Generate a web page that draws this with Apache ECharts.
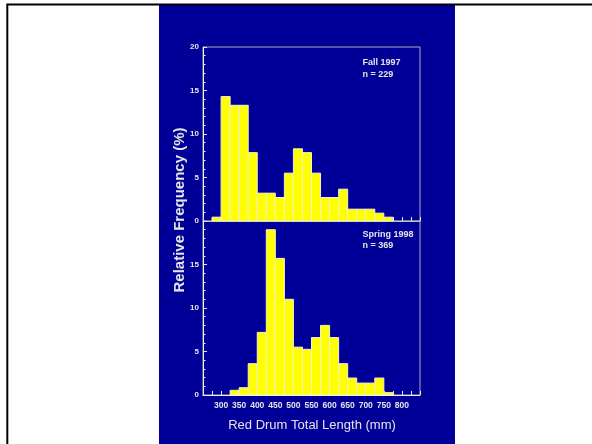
<!DOCTYPE html>
<html>
<head>
<meta charset="utf-8">
<script src="https://cdn.jsdelivr.net/npm/echarts@6/dist/echarts.min.js"></script>
<style>
html,body{margin:0;padding:0;background:#ffffff;}
#chart{width:592px;height:444px;}
</style>
</head>
<body>
<div id="chart"></div>
<script>
// ---- data ----
const binWidth = 25; // mm
const fallBinStarts = [275, 300, 325, 350, 375, 400, 425, 450, 475, 500, 525, 550, 575, 600, 625, 650, 675, 700, 725, 750];
const fallValues    = [0.44, 14.3, 13.3, 13.3, 7.86, 3.2, 3.2, 2.7, 5.5, 8.3, 7.86, 5.5, 2.7, 2.7, 3.66, 1.36, 1.36, 1.36, 0.9, 0.44];
const springBinStarts = [325, 350, 375, 400, 425, 450, 475, 500, 525, 550, 575, 600, 625, 650, 675, 700, 725, 750];
const springValues    = [0.54, 0.84, 3.6, 7.2, 19.0, 15.7, 11.0, 5.5, 5.25, 6.6, 8.0, 6.6, 3.6, 1.95, 1.37, 1.37, 1.95, 0.27];
const xTickLabels = [300, 350, 400, 450, 500, 550, 600, 650, 700, 750, 800];
const yTickLabels = [0, 5, 10, 15, 20];
const fallLabel = ['Fall 1997', 'n = 229'];
const springLabel = ['Spring 1998', 'n = 369'];
const xTitle = 'Red Drum Total Length (mm)';
const yTitle = 'Relative Frequency (%)';

const fallData = fallBinStarts.map((s, i) => [s, fallValues[i]]);
const springData = springBinStarts.map((s, i) => [s, springValues[i]]);

const FONT = '"Liberation Sans", Arial, sans-serif';
const TXT = '#e4e4e4';
const chart = echarts.init(document.getElementById('chart'), null, {renderer: 'canvas'});

function renderBar(params, api) {
  const x0 = api.value(0);
  const v = api.value(1);
  const p0 = api.coord([x0, 0]);
  const p1 = api.coord([x0 + binWidth, v]);
  return {
    type: 'rect',
    shape: {x: p0[0], y: p1[1], width: p1[0] - p0[0], height: p0[1] - p1[1]},
    style: {fill: '#ffff00', stroke: '#f2f2c4', lineWidth: 1}
  };
}

function xAxisCfg(idx, showLabels) {
  return {
    type: 'value', gridIndex: idx, min: 250, max: 850, interval: 25,
    axisLine: {show: true, lineStyle: {color: idx === 0 ? '#c4c4b4' : '#f0f0f0', width: 1}},
    axisTick: {show: true, inside: true, length: 4, lineStyle: {color: '#e8e8e8'}},
    splitLine: {show: false},
    axisLabel: {
      show: showLabels, margin: 6, color: TXT, fontFamily: FONT, fontSize: 8.5, fontWeight: 'bold',
      formatter: v => xTickLabels.indexOf(v) >= 0 ? String(v) : ''
    }
  };
}
function yAxisCfg(idx, hideTop) {
  return {
    type: 'value', gridIndex: idx, min: 0, max: 20, interval: 5,
    axisLine: {show: true, lineStyle: {color: '#f0f0f0', width: 1}},
    axisTick: {show: true, inside: true, length: 4, lineStyle: {color: '#e8e8e8'}},
    minorTick: {show: true, splitNumber: 5, length: 2.5, lineStyle: {color: '#e8e8e8'}},
    splitLine: {show: false},
    axisLabel: {
      margin: 4, color: TXT, fontFamily: FONT, fontSize: 8, fontWeight: 'bold',
      formatter: v => (hideTop && v === 20) ? '' : (yTickLabels.indexOf(v) >= 0 ? String(v) : '')
    }
  };
}

const option = {
  animation: false,
  backgroundColor: '#ffffff',
  grid: [
    {left: 203, top: 47, width: 217, height: 174, show: true, borderColor: '#ababab', borderWidth: 1, backgroundColor: 'transparent'},
    {left: 203, top: 221, width: 217, height: 174, show: true, borderColor: '#ababab', borderWidth: 1, backgroundColor: 'transparent'}
  ],
  xAxis: [xAxisCfg(0, false), xAxisCfg(1, true)],
  yAxis: [yAxisCfg(0, false), yAxisCfg(1, true)],
  series: [
    {type: 'custom', xAxisIndex: 0, yAxisIndex: 0, renderItem: renderBar, data: fallData, encode: {x: 0, y: 1}, z: 3},
    {type: 'custom', xAxisIndex: 1, yAxisIndex: 1, renderItem: renderBar, data: springData, encode: {x: 0, y: 1}, z: 3}
  ],
  graphic: [
    {type: 'rect', z: -10, silent: true, shape: {x: 159, y: 5, width: 296, height: 445}, style: {fill: '#000099'}},
    {type: 'rect', z: 100, silent: true, shape: {x: 7.3, y: 4.5, width: 640, height: 500}, style: {fill: 'none', stroke: '#000000', lineWidth: 2}},
    {type: 'text', z: 50, x: 362.5, y: 62.5, style: {text: fallLabel[0], fill: TXT, font: 'bold 9px ' + FONT, textVerticalAlign: 'middle'}},
    {type: 'text', z: 50, x: 362.5, y: 75, style: {text: fallLabel[1], fill: TXT, font: 'bold 9px ' + FONT, textVerticalAlign: 'middle'}},
    {type: 'text', z: 50, x: 362.5, y: 234.5, style: {text: springLabel[0], fill: TXT, font: 'bold 9px ' + FONT, textVerticalAlign: 'middle'}},
    {type: 'text', z: 50, x: 362.5, y: 246, style: {text: springLabel[1], fill: TXT, font: 'bold 9px ' + FONT, textVerticalAlign: 'middle'}},
    {type: 'text', z: 50, x: 312, y: 425, style: {text: xTitle, fill: TXT, font: '13px ' + FONT, textAlign: 'center', textVerticalAlign: 'middle'}},
    {type: 'text', z: 50, x: 180, y: 210, rotation: Math.PI / 2, style: {text: yTitle, fill: TXT, font: 'bold 15px ' + FONT, textAlign: 'center', textVerticalAlign: 'middle'}}
  ]
};
chart.setOption(option);
</script>
</body>
</html>
